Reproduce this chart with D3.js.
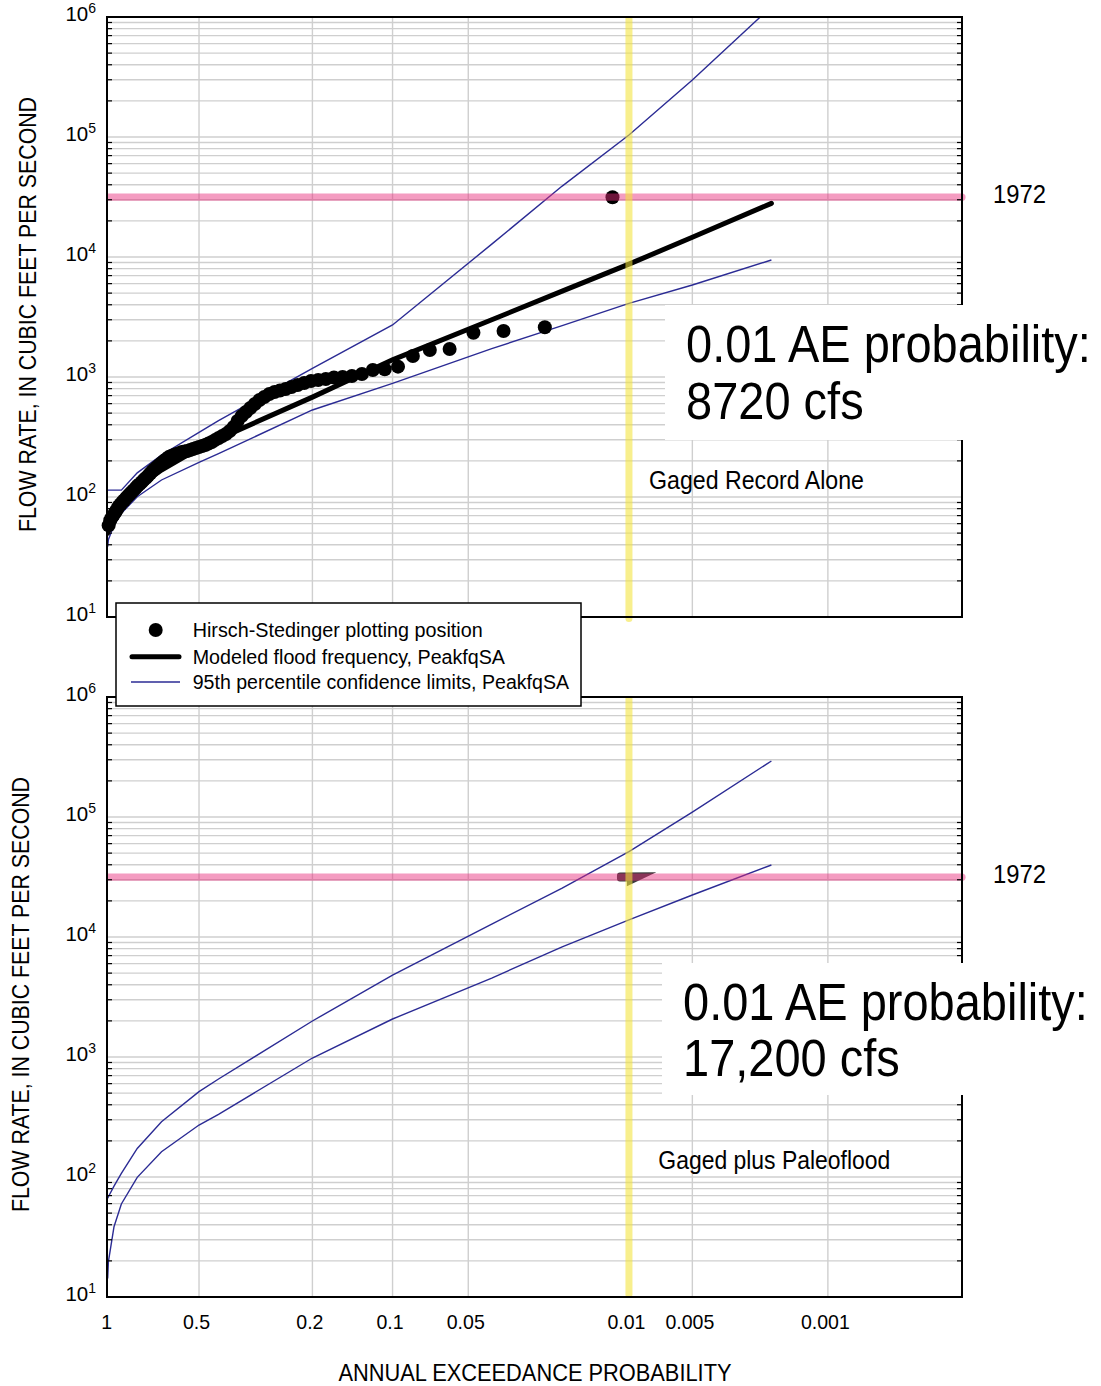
<!DOCTYPE html>
<html><head><meta charset="utf-8">
<script src="https://cdn.jsdelivr.net/npm/d3@7"></script>
<style>
body{margin:0;background:#fff;}
svg{display:block;font-family:"Liberation Sans",Arial,Helvetica,sans-serif;}
</style></head><body>
<svg id="chart" width="1101" height="1386"></svg>
<script>
// ---------------- DATA ----------------
const aepLevels   = [0.995,0.99,0.95,0.9,0.8,0.6667,0.5,0.4292,0.2,0.1,0.04,0.02,0.01,0.005,0.002];
const gagedModel  = [50,53,70,88,120,168,255,305,680,1390,3000,5190,8720,14600,28000];
const gagedUpper  = [114,114,114,114,159,224,346,433,1180,2713,12800,39000,104000,298000,1220000];
const gagedLower  = [38.5,44,58.4,73.1,100.6,138.6,194,230,531,886,1725,2676,4112,5840,9440];
const paleoUpper  = [66.4,68.5,84,107,173,289,514,656,1995,4820,12830,25600,51400,110000,293000];
const paleoLower  = [14.3,19.6,38.5,59.6,99.4,162.6,271,333,981,2073,4550,8270,13870,22390,39800];
// annual peaks, ranked largest first (cfs)
const observedPeaks = [31500,2594,2416,2339,1711,1679,1496,1220,1160,1143,1059,1019,1000,990,962,944,926,891,858,825,794,772,750,722,681,643,596,552,511,473,430,383,355,335,322,310,299,287,279,271,266,261,256,251,246,242,239,237,232,228,224,220,215,207,200,192,185,178,171,165,157,150,144,139,133,128,124,119,114,110,106,102,98,94,91,87,84,79,75,71,68,64,58];
const flood1972 = 31500;
const paleoMarker = {p:0.0105, q:31500};
const targetAep = 0.01;
const xTickValues = [1,0.5,0.2,0.1,0.05,0.01,0.005,0.001];
const xTickLabels = ["1","0.5","0.2","0.1","0.05","0.01","0.005","0.001"];
const gridProbs = [0.5,0.2,0.1,0.05,0.005,0.001];
const yTickExps = [1,2,3,4,5,6];
const legendLabels = ["Hirsch-Stedinger plotting position","Modeled flood frequency, PeakfqSA","95th percentile confidence limits, PeakfqSA"];
const panelTitles = ["Gaged Record Alone","Gaged plus Paleoflood"];
const annotLine1 = ["0.01 AE probability:","0.01 AE probability:"];
const annotLine2 = ["8720 cfs","17,200 cfs"];

// ---------------- SCALES ----------------
const svg = d3.select('#chart');
const X0 = 107, X1 = 962;
const C = 22.15, P_MIN = 1.67e-4;
const probT = p => { const t = -Math.log(p); return t/(t+C); };
const xLin = d3.scaleLinear().domain([probT(1), probT(P_MIN)]).range([X0, X1]);
const x = p => xLin(probT(p));

const NAVY = '#2b2b94';
function fitW(sel, w){ sel.attr('textLength', w).attr('lengthAdjust','spacingAndGlyphs'); return sel; }
function condense(sel, f){ sel.each(function(){ const w=this.getComputedTextLength(); d3.select(this).attr('textLength', w*f).attr('lengthAdjust','spacingAndGlyphs'); }); return sel; }

const panels = [
  {top:17, bottom:617, upper:gagedUpper, lower:gagedLower, model:gagedModel, peaks:true,
   tagX:649, tagY:488.5, tagW:215, boxX:665, boxY:305, boxH:135, textX:686, base1:362, base2:419,
   yLabelX:36, yellowEnd:622},
  {top:697, bottom:1297, upper:paleoUpper, lower:paleoLower, model:null, peaks:false,
   tagX:658.3, tagY:1169.3, tagW:232, boxX:662, boxY:963, boxH:132, textX:683, base1:1020, base2:1076,
   yLabelX:29, yellowEnd:1298}
];

const gridVals = [];
for (let k=1;k<=5;k++) for (let m=1;m<=9;m++) gridVals.push(m*Math.pow(10,k));
gridVals.push(1e6);
const minorVals = gridVals.filter(v => Math.abs(Math.log10(v) - Math.round(Math.log10(v))) > 1e-6);

panels.forEach((P, idx) => {
  const y = d3.scaleLog().domain([10,1e6]).range([P.bottom, P.top]);
  const g = svg.append('g');
  // grid
  g.append('g').selectAll('line').data(gridVals).join('line')
    .attr('x1',X0).attr('x2',X1).attr('y1',d=>y(d)).attr('y2',d=>y(d))
    .attr('stroke','#cfcfcf').attr('stroke-width',1.4);
  g.append('g').selectAll('line').data(gridProbs).join('line')
    .attr('x1',d=>x(d)).attr('x2',d=>x(d)).attr('y1',P.top).attr('y2',P.bottom)
    .attr('stroke','#cfcfcf').attr('stroke-width',1.4);

  // clip
  const cid = 'clip'+idx;
  svg.append('clipPath').attr('id',cid).append('rect')
    .attr('x',X0).attr('y',P.top).attr('width',X1-X0).attr('height',P.bottom-P.top);
  const dg = g.append('g');
  const lg = dg.append('g').attr('clip-path',`url(#${cid})`);
  const line = d3.line().x((d,i)=>x(aepLevels[i])).y(d=>y(d));
  [P.upper, P.lower].forEach(arr => {
    lg.append('path').datum(arr).attr('d',line).attr('fill','none')
      .attr('stroke',NAVY).attr('stroke-width',1.4);
  });
  if (P.model) {
    lg.append('path').datum(P.model).attr('d',line).attr('fill','none')
      .attr('stroke','#000').attr('stroke-width',5).attr('stroke-linecap','round');
  }
  if (P.peaks) {
    const n = observedPeaks.length;
    dg.append('g').selectAll('circle').data(observedPeaks).join('circle')
      .attr('cx',(d,i)=>x((i+1)/(n+1))).attr('cy',d=>y(d)).attr('r',7).attr('fill','#000');
  } else {
    const ax = x(paleoMarker.p), ay = y(paleoMarker.q);
    dg.append('path')
      .attr('transform',`translate(${ax},${ay})`)
      .attr('d','M-4.4,-4.7 L32,-5 L2.5,9 L2.5,4.3 L-4.4,4.3 Q-7.4,4.3 -7.4,1.3 V-1.7 Q-7.4,-4.7 -4.4,-4.7 Z')
      .attr('fill','#3a3a3a');
  }

  // pink 1972 line
  const py = y(flood1972);
  g.append('path')
    .attr('d',`M${X0},${py-3.6} H${X1} A3.6,3.6 0 0 1 ${X1},${py+3.6} H${X0} Z`)
    .attr('fill','#e72c7c').attr('fill-opacity',0.47);
  // yellow 0.01 line
  const yx = x(targetAep), r = 3.5;
  g.append('path')
    .attr('d',`M${yx-r},${P.top} V${P.yellowEnd-r} A${r},${r} 0 0 0 ${yx+r},${P.yellowEnd-r} V${P.top} Z`)
    .attr('fill','#f3e43a').attr('fill-opacity',0.58);

  // border
  g.append('rect').attr('x',X0).attr('y',P.top).attr('width',X1-X0).attr('height',P.bottom-P.top)
    .attr('fill','none').attr('stroke','#000').attr('stroke-width',2);
  // inner ticks
  g.append('g').selectAll('line').data(minorVals).join('line')
    .attr('x1',X0).attr('x2',X0+5).attr('y1',d=>y(d)).attr('y2',d=>y(d))
    .attr('stroke','#000').attr('stroke-width',1.2);
  g.append('g').selectAll('line').data(minorVals).join('line')
    .attr('x1',X1-5).attr('x2',X1).attr('y1',d=>y(d)).attr('y2',d=>y(d))
    .attr('stroke','#000').attr('stroke-width',1.2);

  // y tick labels
  const yl = g.append('g').selectAll('text').data(yTickExps).join('text')
    .attr('x',96).attr('y',d=>y(Math.pow(10,d))+4).attr('text-anchor','end')
    .attr('font-size',20.5).attr('fill','#000');
  yl.append('tspan').text('10');
  yl.append('tspan').attr('font-size',14).attr('dy',-8).text(d=>d);

  // 1972 label
  condense(g.append('text').attr('x',993).attr('y',py+5.6).attr('font-size',25.5).text('1972'), 0.935);

  // panel tag
  fitW(g.append('text').attr('x',P.tagX).attr('y',P.tagY).attr('font-size',25.5).text(panelTitles[idx]), P.tagW);

  // annotation box (text horizontally compressed with a transform)
  g.append('rect').attr('x',P.boxX).attr('y',P.boxY).attr('width',1101-P.boxX).attr('height',P.boxH).attr('fill','#fff');
  const ag = g.append('g');
  const t1 = ag.append('text').attr('x',0).attr('y',0).attr('font-size',51).text(annotLine1[idx]);
  const nat = t1.node().getComputedTextLength();
  const f = 405/nat;
  t1.attr('transform',`translate(${P.textX},${P.base1}) scale(${f},1)`);
  ag.append('text').attr('x',0).attr('y',0).attr('font-size',51).text(annotLine2[idx])
    .attr('transform',`translate(${P.textX},${P.base2}) scale(${f},1)`);

  // y axis title
  fitW(g.append('text').attr('transform',`translate(${P.yLabelX},${(P.top+P.bottom)/2-2.5}) rotate(-90)`)
    .attr('text-anchor','middle').attr('font-size',23).text('FLOW RATE, IN CUBIC FEET PER SECOND'), 435);

  // x tick labels (bottom panel only)
  if (idx === 1) {
    const xt = g.append('g').selectAll('text').data(xTickValues).join('text')
      .attr('x',(d)=>x(d) - (d===1?0.3:2.5)).attr('y',1329).attr('text-anchor','middle')
      .attr('font-size',21).text((d,i)=>xTickLabels[i]);
    condense(xt, 0.93);
  }
});

// x axis title
fitW(svg.append('text').attr('x',535).attr('y',1380.7).attr('text-anchor','middle')
  .attr('font-size',23).text('ANNUAL EXCEEDANCE PROBABILITY'), 393);

// legend
const lgd = svg.append('g');
lgd.append('rect').attr('x',116).attr('y',603).attr('width',465).attr('height',103)
  .attr('fill','#fff').attr('stroke','#000').attr('stroke-width',1.5);
lgd.append('circle').attr('cx',155.7).attr('cy',630).attr('r',7).attr('fill','#000');
lgd.append('line').attr('x1',132).attr('x2',179).attr('y1',656.7).attr('y2',656.7)
  .attr('stroke','#000').attr('stroke-width',5).attr('stroke-linecap','round');
lgd.append('line').attr('x1',131).attr('x2',180).attr('y1',682).attr('y2',682)
  .attr('stroke',NAVY).attr('stroke-width',1.3);
const legW = [290, 312.3, 376.3];
const legB = [637.3, 664, 689.3];
lgd.selectAll('text.leg').data(legendLabels).join('text').attr('class','leg')
  .attr('x',192.7).attr('y',(d,i)=>legB[i]).attr('font-size',19.5).text(d=>d)
  .attr('textLength',(d,i)=>legW[i]).attr('lengthAdjust','spacingAndGlyphs');
</script>
</body></html>
